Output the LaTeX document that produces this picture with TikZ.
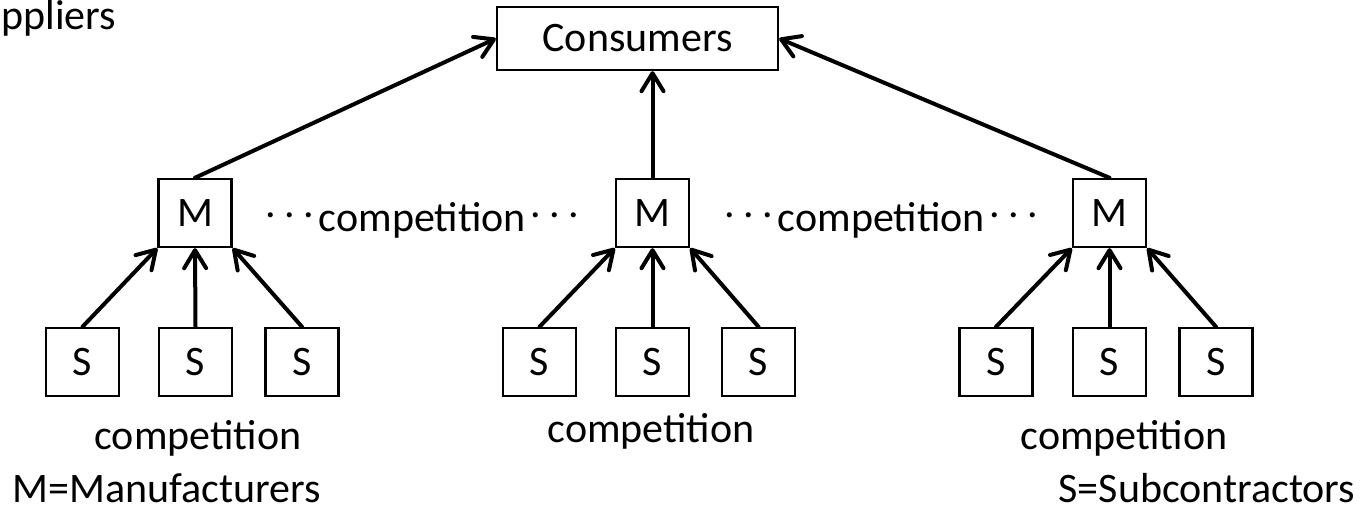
\documentclass[tikz,border=0pt]{standalone}
\usepackage{amsmath}
\usepackage{fontspec}
\setmainfont{Carlito}
\usetikzlibrary{arrows.meta}
\newcommand{\gapdots}{\raisebox{0.34em}{.\kern0.2em.\kern0.2em.}}

\begin{document}
\begin{tikzpicture}[
		x=0.5pt, y=-0.5pt,
		every node/.style={font=\fontsize{21}{25}\selectfont},
		box/.style={rectangle, draw, line width=1.2pt, minimum width=36.5pt, minimum height=34pt, inner sep=0pt},
		arr/.style={-{Straight Barb[length=9pt, width=11pt, round]}, line width=2pt, line cap=round}
	]
  \useasboundingbox (0,0) rectangle (1371,512);
  \node (sup) [anchor=base west, inner sep=0pt] at (1,30) {ppliers};
  \node (cons) [box, minimum width=140.5pt, minimum height=31.5pt] at (637.5,38.5) {Consumers};
  \node (m_1) [box] at (195,213) {M};
  \node (m_2) [box] at (652.5,213) {M};
  \node (m_3) [box] at (1109.5,213) {M};
  \node (comp_12) [anchor=base] at (422,232) {\gapdots\kern0.12em competition\kern0.1em\gapdots};
  \node (comp_23) [anchor=base] at (881,232) {\gapdots\kern0.12em competition\kern0.1em\gapdots};
  \node (s_1a) [box] at (82.5,362) {S};
  \node (s_1b) [box] at (195.5,362) {S};
  \node (s_1c) [box] at (302,362) {S};
  \node (s_2a) [box] at (539.5,362) {S};
  \node (s_2b) [box] at (652.5,362) {S};
  \node (s_2c) [box] at (758.5,362) {S};
  \node (s_3a) [box] at (996,362) {S};
  \node (s_3b) [box] at (1109.5,362) {S};
  \node (s_3c) [box] at (1216,362) {S};
  \node (comp_1) [anchor=base] at (198,450) {competition};
  \node (comp_2) [anchor=base] at (651,443) {competition};
  \node (comp_3) [anchor=base] at (1124,450) {competition};
  \node (key_m) [anchor=base, inner sep=0pt] at (167,503) {M=Manufacturers};
  \node (key_s) [anchor=base, inner sep=0pt] at (1207,503) {S=Subcontractors};
  % manufacturers to consumers
  \draw [arr] (m_1.north) -- (cons.west);
  \draw [arr] (m_2.north) -- (m_2.north |- cons.south);
  \draw [arr] (m_3.north) -- (cons.east);
  % subcontractors to manufacturers
  \draw [arr] (s_1a.north) -- (m_1.south west);
  \draw [arr] (s_1b.north) -- (m_1.south);
  \draw [arr] (s_1c.north) -- (m_1.south east);
  \draw [arr] (s_2a.north) -- (m_2.south west);
  \draw [arr] (s_2b.north) -- (m_2.south);
  \draw [arr] (s_2c.north) -- (m_2.south east);
  \draw [arr] (s_3a.north) -- (m_3.south west);
  \draw [arr] (s_3b.north) -- (m_3.south);
  \draw [arr] (s_3c.north) -- (m_3.south east);
\end{tikzpicture}
\end{document}
